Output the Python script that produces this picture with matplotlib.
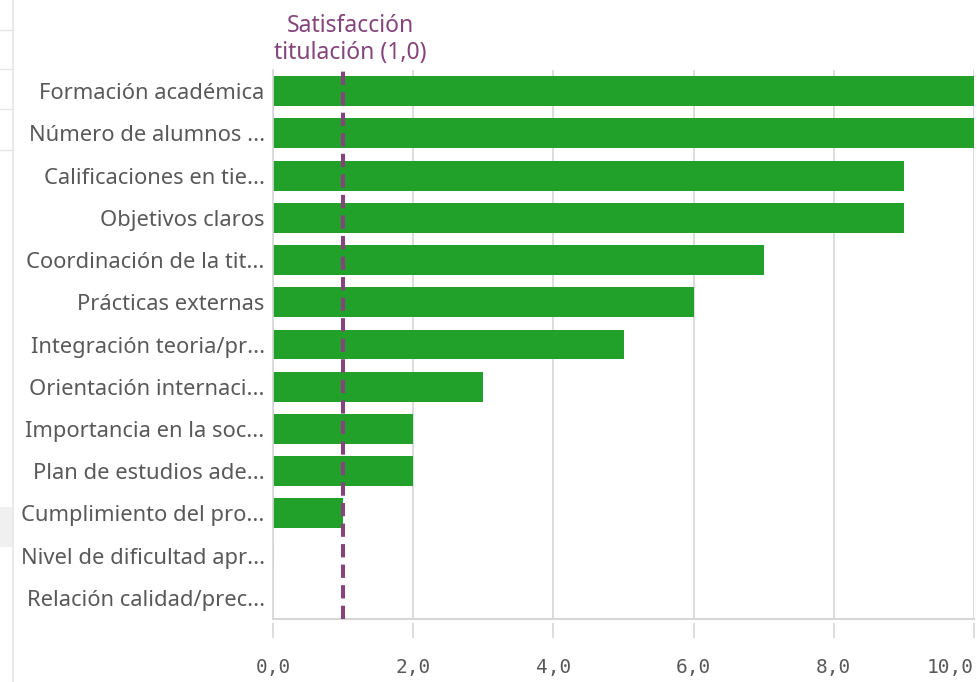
import matplotlib.pyplot as plt
from matplotlib.lines import Line2D
from matplotlib.patches import Rectangle

# Data
categories = ['Formación académica', 'Número de alumnos ...', 'Calificaciones en tie...',
              'Objetivos claros', 'Coordinación de la tit...', 'Prácticas externas',
              'Integración teoria/pr...', 'Orientación internaci...', 'Importancia en la soc...',
              'Plan de estudios ade...', 'Cumplimiento del pro...', 'Nivel de dificultad apr...',
              'Relación calidad/prec...']
values = [10, 10, 9, 9, 7, 6, 5, 3, 2, 2, 1, 0, 0]
ref_value = 1.0
ref_label = 'Satisfacción\ntitulación (1,0)'
xticks = [0, 2, 4, 6, 8, 10]
xticklabels = ['0,0', '2,0', '4,0', '6,0', '8,0', '10,0']

green = '#21a12a'
purple = '#86447c'
grey_text = '#595959'
grid_col = '#d6d6d6'

plt.rcParams['font.family'] = ['Noto Sans', 'DejaVu Sans']

fig = plt.figure(figsize=(9.78, 6.82), dpi=100)
ax = fig.add_axes([273 / 978, 1 - 619 / 682, (974 - 273) / 978, (619 - 70) / 682])

# spines first (moving a spine resets the ticks)
for s in ['top', 'right']:
    ax.spines[s].set_visible(False)
ax.spines['left'].set_color(grid_col)
ax.spines['left'].set_linewidth(1.2)
ax.spines['bottom'].set_position(('outward', 3))
ax.spines['bottom'].set_color('none')

ypos = list(range(len(categories)))
ax.barh(ypos, values, height=0.71, color=green, zorder=2)
# tiny zero-value marker
ax.barh([11], [0.0], height=0.55, color='none', edgecolor='#efc6d2', linewidth=1.5, zorder=2)

ax.set_xlim(0, 10)
ax.set_ylim(len(categories) - 0.5, -0.5)

ax.tick_params(axis='y', length=0, pad=6, labelsize=15.8, labelcolor=grey_text)
ax.tick_params(axis='x', length=11, width=1.2, color=grid_col, pad=14,
               labelsize=14, labelcolor=grey_text, labelfontfamily='DejaVu Sans Mono')
ax.set_yticks(ypos)
ax.set_yticklabels(categories)
ax.set_xticks(xticks)
ax.set_xticklabels(xticklabels)
ax.get_xticklabels()[-1].set_horizontalalignment('right')
ax.xaxis.grid(True, color=grid_col, linewidth=1.2, zorder=0)

ax.axhline(len(categories) - 0.5, color=grid_col, linewidth=1.5, zorder=1, clip_on=False)

# reference line
ax.axvline(ref_value, color=purple, linewidth=2.9, dashes=(3.3, 1.8), zorder=3)
ax.annotate(ref_label, xy=(ref_value, -0.62), xytext=(7, 0), textcoords='offset pixels',
            ha='center', va='bottom', fontsize=16.5, color=purple, linespacing=1.15,
            annotation_clip=False)

# leftover UI edges on the left side
fig.add_artist(Line2D([13 / 978, 13 / 978], [0, 1], color='#e6e6e6', linewidth=1.2))
for yy in [30, 69, 109, 150]:
    fig.add_artist(Line2D([0, 13 / 978], [1 - yy / 682, 1 - yy / 682], color='#e6e6e6', linewidth=1))
fig.add_artist(Rectangle((0, 1 - 547 / 682), 12 / 978, 40 / 682, color='#f0f0f0', linewidth=0))

fig.savefig('out.png', dpi=100)
